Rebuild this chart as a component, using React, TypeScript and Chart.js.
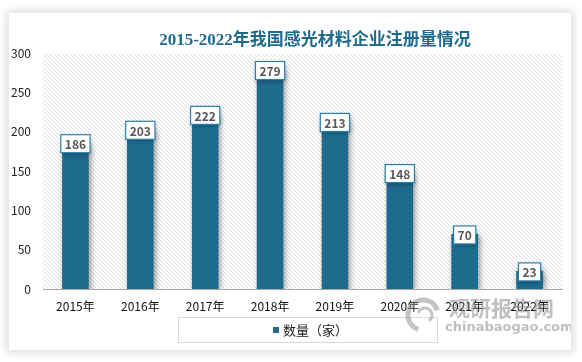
import React, { useEffect, useRef } from "react";
import { Chart, registerables } from "chart.js";

Chart.register(...registerables);

const chartTitle = "2015-2022年我国感光材料企业注册量情况";
const seriesName = "数量（家）";
const categories = ["2015年", "2016年", "2017年", "2018年", "2019年", "2020年", "2021年", "2022年"];
const counts = [186, 203, 222, 279, 213, 148, 70, 23];
const yTicks = [0, 50, 100, 150, 200, 250, 300];
const watermarkMain = "观研报告网";
const watermarkSub = "chinabaogao.com";

const BAR = "#1f6b8e";
const CJK = '"Noto Sans CJK SC", "Noto Sans", sans-serif';

export default function App() {
  const ref = useRef<HTMLCanvasElement | null>(null);

  useEffect(() => {
    const canvas = ref.current;
    if (!canvas) return;

    const pc = document.createElement("canvas");
    pc.width = 4;
    pc.height = 4;
    const pctx = pc.getContext("2d")!;
    pctx.fillStyle = "#ffffff";
    pctx.fillRect(0, 0, 4, 4);
    pctx.fillStyle = "#dedede";
    for (let i = 0; i < 4; i++) pctx.fillRect(i, i, 1, 1);

    const deco = {
      id: "deco",
      beforeDraw(chart: any) {
        const { ctx, chartArea } = chart;
        ctx.save();
        const pat = ctx.createPattern(pc, "repeat");
        ctx.fillStyle = pat;
        ctx.fillRect(chartArea.left, chartArea.top, chartArea.right - chartArea.left, chartArea.bottom - chartArea.top);
        ctx.restore();
      },
      beforeDatasetsDraw(chart: any) {
        const ctx = chart.ctx;
        ctx.save();
        ctx.shadowColor = "rgba(0,0,0,0.4)";
        ctx.shadowBlur = 6;
        ctx.shadowOffsetX = 2;
        ctx.shadowOffsetY = 2;
      },
      afterDatasetsDraw(chart: any) {
        const ctx = chart.ctx;
        ctx.restore();
        const meta = chart.getDatasetMeta(0);
        ctx.save();
        ctx.font = `bold 12px ${CJK}`;
        meta.data.forEach((bar: any, i: number) => {
          const txt = String(counts[i]);
          const w = ctx.measureText(txt).width + 8;
          const h = 18;
          const cx = bar.x;
          const cy = bar.y + 1;
          ctx.save();
          ctx.shadowColor = "rgba(0,0,0,0.3)";
          ctx.shadowBlur = 5;
          ctx.shadowOffsetX = 1;
          ctx.shadowOffsetY = 2;
          ctx.fillStyle = "#ffffff";
          ctx.fillRect(cx - w / 2, cy - h / 2, w, h);
          ctx.restore();
          ctx.strokeStyle = "#2a80ad";
          ctx.lineWidth = 1.2;
          ctx.strokeRect(cx - w / 2, cy - h / 2, w, h);
          ctx.fillStyle = "#595959";
          ctx.textAlign = "center";
          ctx.textBaseline = "middle";
          ctx.fillText(txt, cx, cy + 1);
        });
        ctx.restore();
      },
      afterDraw(chart: any) {
        const ctx = chart.ctx;
        ctx.save();
        // title
        ctx.fillStyle = "#1f6b8e";
        ctx.font = `bold 17px "Liberation Serif", "DejaVu Serif", "Noto Sans CJK SC", serif`;
        ctx.textAlign = "center";
        ctx.textBaseline = "middle";
        ctx.fillText(chartTitle, 306, 28);
        // legend
        ctx.strokeStyle = "#d9d9d9";
        ctx.lineWidth = 1;
        ctx.strokeRect(169.5, 304.5, 259, 25);
        ctx.fillStyle = BAR;
        ctx.fillRect(264, 314, 6, 6);
        ctx.fillStyle = "#222222";
        ctx.font = `13px ${CJK}`;
        ctx.textAlign = "left";
        ctx.fillText(seriesName, 274, 317);
        // watermark
        ctx.globalAlpha = 0.5;
        ctx.strokeStyle = "#8a8a8a";
        ctx.lineWidth = 5;
        ctx.beginPath();
        ctx.arc(414, 302, 15, Math.PI * 0.6, Math.PI * 1.9);
        ctx.stroke();
        ctx.lineWidth = 3;
        ctx.beginPath();
        ctx.arc(416, 302, 7, Math.PI * 1.1, Math.PI * 2.3);
        ctx.stroke();
        ctx.fillStyle = "#808080";
        ctx.font = `bold 21px ${CJK}`;
        ctx.textAlign = "left";
        ctx.textBaseline = "middle";
        ctx.fillText(watermarkMain, 440, 295);
        ctx.font = `bold 13px "DejaVu Sans", sans-serif`;
        ctx.fillText(watermarkSub, 436, 315);
        ctx.restore();
      },
    };

    const chart = new Chart(canvas, {
      type: "bar",
      data: {
        labels: categories,
        datasets: [
          {
            label: seriesName,
            data: counts,
            backgroundColor: BAR,
            borderWidth: 0,
            barPercentage: 0.41,
            categoryPercentage: 1,
          },
        ],
      },
      options: {
        responsive: false,
        animation: false,
        devicePixelRatio: 1,
        layout: { padding: { left: 0, right: 9, top: 40, bottom: 0 } },
        plugins: {
          legend: { display: false },
          tooltip: { enabled: false },
          title: { display: false },
        },
        scales: {
          x: {
            grid: { display: false, drawTicks: false },
            border: { display: true, color: "#a6a6a6", width: 1 },
            ticks: {
              padding: 10,
              color: "#111111",
              font: { size: 12, family: CJK },
              maxRotation: 0,
            },
            afterFit(scale: any) {
              scale.height = 61;
            },
          },
          y: {
            min: 0,
            max: 300,
            grid: { display: false, drawTicks: false },
            border: { display: false },
            afterBuildTicks(scale: any) {
              scale.ticks = yTicks.map((v) => ({ value: v }));
            },
            ticks: {
              padding: 12,
              color: "#222222",
              font: { size: 12, family: CJK },
            },
            afterFit(scale: any) {
              scale.width = 34;
            },
          },
        },
      },
      plugins: [deco],
    });

    return () => chart.destroy();
  }, []);

  return (
    <div
      style={{
        position: "absolute",
        left: 0,
        top: 0,
        width: 582,
        height: 362,
        background: "#ffffff",
        overflow: "hidden",
      }}
    >
      <div
        style={{
          position: "absolute",
          left: 9,
          top: 13,
          width: 562,
          height: 337,
          background: "#ffffff",
          boxShadow: "0 0 8px 3px rgba(0,0,0,0.13)",
        }}
      >
        <canvas ref={ref} width={562} height={337} style={{ display: "block", width: 562, height: 337 }} />
      </div>
    </div>
  );
}
